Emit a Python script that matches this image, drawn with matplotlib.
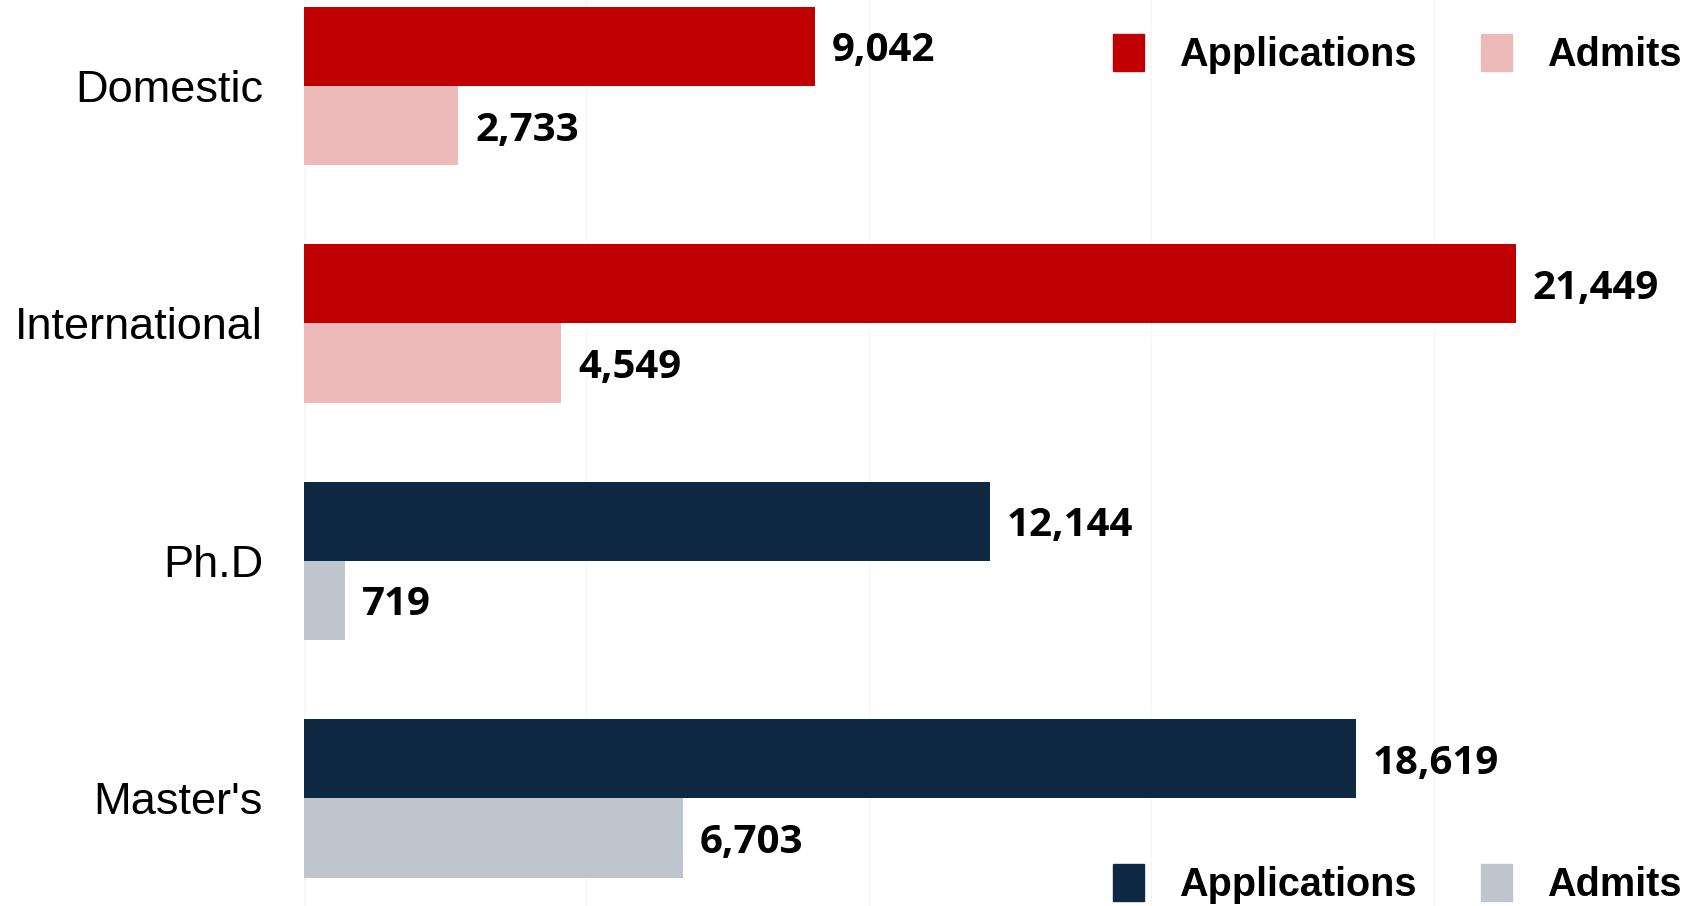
import numpy as np
import matplotlib.pyplot as plt
from matplotlib.patches import Patch

# categories top to bottom
categories = ["Domestic", "International", "Ph.D", "Master's"]
applications = [9042, 21449, 12144, 18619]
admits = [2733, 4549, 719, 6703]

app_colors = ["#C00000", "#C00000", "#0F2942", "#0F2942"]
adm_colors = ["#EDB9B9", "#EDB9B9", "#BEC5CD", "#BEC5CD"]

W, H = 1691, 906
fig = plt.figure(figsize=(W / 100, H / 100), dpi=100)
ax = fig.add_axes([304 / W, 0, 1 - 304 / W, 1])

y = np.arange(len(categories))
bh = 0.333
ax.barh(y - bh / 2, applications, height=bh, color=app_colors, zorder=2)
ax.barh(y + bh / 2, admits, height=bh, color=adm_colors, zorder=2)

ax.set_ylim(3.453, -0.362)
ax.set_xlim(0, 24550)
ax.set_xticks([0, 5000, 10000, 15000, 20000])
ax.xaxis.grid(True, color="#F6F6F6", lw=1, zorder=0)
ax.tick_params(axis="x", length=0, labelbottom=False)
ax.tick_params(axis="y", length=0, pad=29.5)
ax.set_yticks(y)
ax.set_yticklabels(categories, fontsize=32.5, family="Liberation Sans")
for s in ax.spines.values():
    s.set_visible(False)
ax.axvline(0, color="#EAEAEA", lw=1, zorder=1)

lab = dict(fontsize=29, fontweight="bold", family=["Open Sans", "DejaVu Sans"],
           va="center_baseline", ha="left")
for i in range(len(categories)):
    ax.text(applications[i] + 300, y[i] - bh / 2, f"{applications[i]:,}", **lab)
    ax.text(admits[i] + 300, y[i] + bh / 2, f"{admits[i]:,}", **lab)

legfont = {"family": "Liberation Sans", "weight": "bold", "size": 28.5}
for cols, yy in [(("#C00000", "#EDB9B9"), 1 - 54 / H), (("#0F2942", "#BEC5CD"), 1 - 884 / H)]:
    handles = [Patch(color=cols[0], label="Applications"), Patch(color=cols[1], label="Admits")]
    fig.legend(handles=handles, loc="center left", bbox_to_anchor=(1113 / W, yy),
               ncol=2, frameon=False, prop=legfont, handlelength=0.78, handleheight=1.04,
               handletextpad=0.89, columnspacing=1.62, borderpad=0, borderaxespad=0)

fig.savefig("out.png", dpi=100)
